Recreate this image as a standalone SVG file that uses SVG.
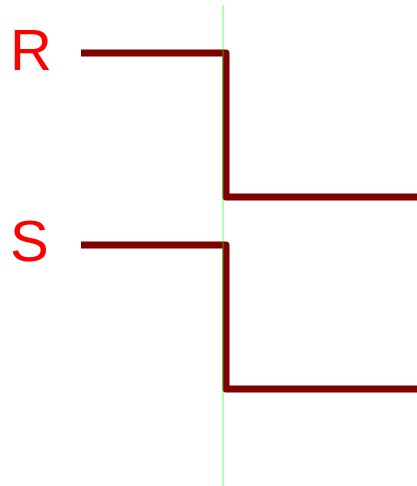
<svg xmlns="http://www.w3.org/2000/svg" width="417" height="486" viewBox="0 0 417 486">
<style>
.lbl{font-family:"Liberation Sans",Arial,sans-serif;font-size:58px;fill:#ff0000}
.wire{fill:none;stroke:#800000;stroke-width:7;stroke-linejoin:round;stroke-linecap:butt}
.guide{stroke:#00ff00;stroke-opacity:0.6;stroke-width:1}
</style>
<rect width="417" height="486" fill="#ffffff"/>
<g id="label-R"><text class="lbl" x="10" y="70">R</text></g>
<g id="label-S"><text class="lbl" x="10" y="261">S</text></g>
<g id="connectors">
<path class="wire" d="M81,53 H226 V197 H417"/>
<path class="wire" d="M81,245 H226 V389 H417"/>
<line class="guide" x1="223" y1="5" x2="223" y2="486"/>
</g>
</svg>
